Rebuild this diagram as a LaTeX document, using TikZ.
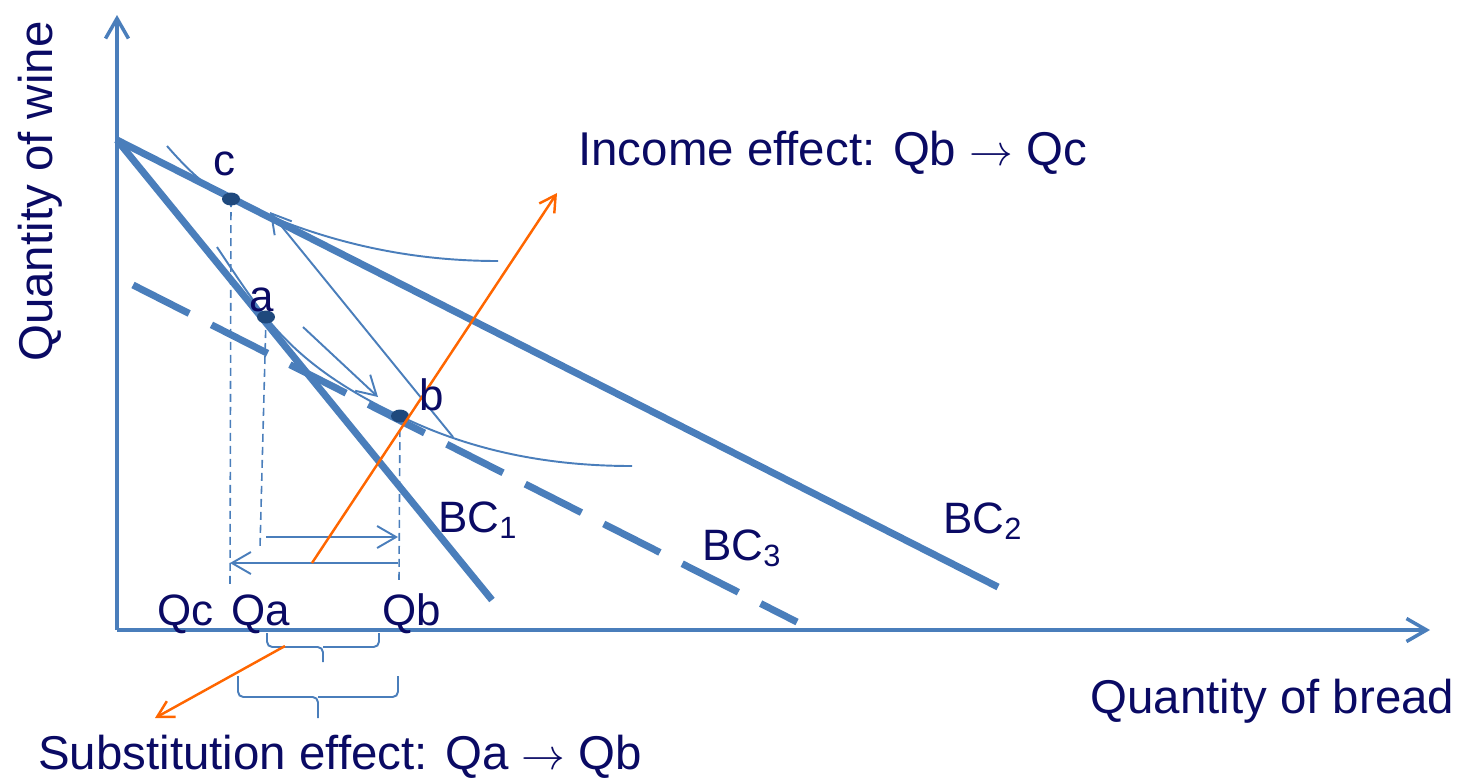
\documentclass[tikz,border=0pt]{standalone}
\usepackage{fontspec}
\setmainfont{Liberation Sans}
\usepackage{tikz}
\usetikzlibrary{arrows.meta}

\definecolor{linec}{HTML}{4A7EBB}
\definecolor{dotc}{HTML}{1F497D}
\definecolor{textc}{HTML}{0A0A64}
\definecolor{orangec}{HTML}{FF6600}

\begin{document}
\begin{tikzpicture}[
    x=0.02cm, y=-0.02cm,
    axis/.style={draw=linec, line width=2pt, -{Straight Barb[length=0.4cm, width=0.46cm]}},
    budget/.style={draw=linec, line width=4pt},
    icurve/.style={draw=linec, line width=1.1pt},
    thinarrow/.style={draw=linec, line width=1.1pt, -{Straight Barb[length=0.38cm, width=0.44cm]}},
    effect/.style={draw=orangec, line width=1.4pt, -{Straight Barb[length=0.32cm, width=0.36cm]}},
    guide/.style={draw=linec, line width=0.9pt, dash pattern=on 0.16cm off 0.1cm},
    brk/.style={draw=linec, line width=1.1pt, rounded corners=3pt},
    big/.style={inner sep=0pt, text=textc, font=\fontsize{27}{30}\selectfont},
    lbl/.style={inner sep=0pt, text=textc, font=\fontsize{25}{28}\selectfont}
]
    \useasboundingbox (0,0) rectangle (1460,779);

    % Axes
    \coordinate (O) at (117,630);
    \coordinate (ytop) at (117,15);
    \coordinate (xend) at (1430,630);
    \draw[axis] (O) -- (ytop);
    \draw[axis] (O) -- (xend);

    % Budget constraints
    \coordinate (wmax) at (117,140);
    \coordinate (bc1e) at (492,600);
    \coordinate (bc2e) at (998,587);
    \coordinate (bc3s) at (133,285);
    \coordinate (bc3e) at (797,622);
    \draw[budget] (wmax) -- (bc2e);
    \draw[budget] (wmax) -- (bc1e);
    \draw[budget, dash pattern=on 1.26cm off 0.5cm] (bc3s) -- (bc3e);

    % Optimum points
    \coordinate (c) at (231,199);
    \coordinate (a) at (266,317);
    \coordinate (b) at (400,416);

    % Indifference curves
    \coordinate (u0) at (167,146);
    \coordinate (u1) at (498,261);
    \coordinate (v0) at (217,247);
    \coordinate (v1) at (632,466);
    \draw[icurve] (u0) .. controls (195,178) and (210,189) .. (c)
        .. controls (330,247) and (420,261) .. (u1);
    \draw[icurve] (v0) .. controls (235,274) and (250,297) .. (a)
        .. controls (300,360) and (345,390) .. (b)
        .. controls (480,455) and (560,466) .. (v1);

    % Movement arrows
    \coordinate (ia0) at (453,437);
    \coordinate (ia1) at (270,212);
    \coordinate (sa0) at (303,327);
    \coordinate (sa1) at (378,397);
    \draw[thinarrow] (ia0) -- (ia1);
    \draw[thinarrow] (sa0) -- (sa1);

    % Drop lines to the axis
    \coordinate (cq) at (230,588);
    \coordinate (aq) at (260,548);
    \coordinate (bq) at (399,580);
    \draw[guide] (c) -- (cq);
    \draw[guide] (a) -- (aq);
    \draw[guide] (b) -- (bq);

    % Quantity shifts
    \coordinate (h1a) at (266,537);
    \coordinate (h1b) at (398,537);
    \coordinate (h2a) at (398,563);
    \coordinate (h2b) at (230,563);
    \draw[thinarrow] (h1a) -- (h1b);
    \draw[thinarrow] (h2a) -- (h2b);

    % Points
    \fill[dotc] (c) ellipse [x radius=0.18cm, y radius=0.13cm];
    \fill[dotc] (a) ellipse [x radius=0.18cm, y radius=0.13cm];
    \fill[dotc] (b) ellipse [x radius=0.18cm, y radius=0.13cm];

    % Braces under the axis
    \draw[brk] (267,633) -- (267,647) -- (323,647) -- (323,662);
    \draw[brk] (379,633) -- (379,647) -- (323,647);
    \draw[brk] (238,676) -- (238,697) -- (318,697) -- (318,718);
    \draw[brk] (398,676) -- (398,697) -- (318,697);

    % Effect pointers
    \coordinate (ie0) at (312,563);
    \coordinate (ie1) at (557,193);
    \coordinate (se0) at (285,646);
    \coordinate (se1) at (155,718);
    \draw[effect] (ie0) -- (ie1);
    \draw[effect] (se0) -- (se1);

    % Labels
    \node[big, anchor=base west, rotate=90] (ylab) at (52,362) {Quantity of wine};
    \node[big, anchor=base west] (xlab) at (1090,713) {Quantity of bread};
    \node[big, anchor=base west] (inc) at (578,165) {Income effect: Qb $\rightarrow$ Qc};
    \node[big, anchor=base west] (sub) at (38,769) {Substitution effect: Qa $\rightarrow$ Qb};
    \node[lbl, anchor=base west] (cl) at (213,175) {c};
    \node[lbl, anchor=base west] (al) at (249,311) {a};
    \node[lbl, anchor=base west] (bl) at (419,410) {b};
    \node[lbl, anchor=base west] (bc1) at (438,532) {BC\textsubscript{1}};
    \node[lbl, anchor=base west] (bc3) at (702,560) {BC\textsubscript{3}};
    \node[lbl, anchor=base west] (bc2) at (943,533) {BC\textsubscript{2}};
    \node[lbl, anchor=base west] (qc) at (157,625) {Qc};
    \node[lbl, anchor=base west] (qa) at (231,625) {Qa};
    \node[lbl, anchor=base west] (qb) at (382,625) {Qb};
\end{tikzpicture}
\end{document}
